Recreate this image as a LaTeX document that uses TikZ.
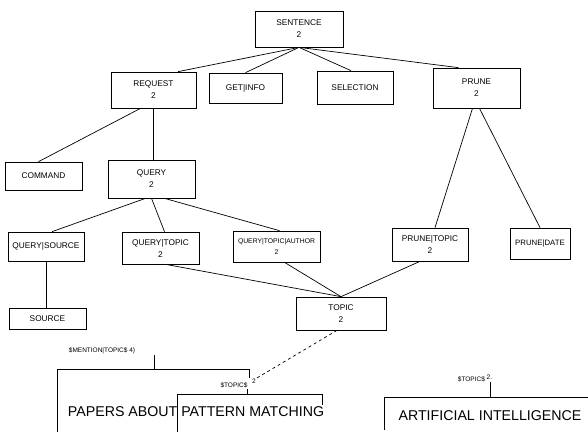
\documentclass[tikz,border=0pt]{standalone}
\usepackage{fontspec}
\setmainfont{Liberation Sans}
\usepackage{tikz}

\begin{document}
\begin{tikzpicture}[x=1pt,y=-1pt, line width=0.7pt,
    box/.style={draw, inner sep=0pt, align=center, font=\fontsize{8.3}{12}\selectfont},
    mark label/.style={inner sep=0pt, font=\fontsize{6.5}{7}\selectfont},
    big text/.style={inner sep=0pt, font=\fontsize{14.2}{16}\selectfont}]
    \useasboundingbox (0,0) rectangle (588,432);
    % Draw the boxes of the parse tree
    \node[box, minimum width=88pt, minimum height=36pt] (sentence) at (299,29) {SENTENCE\\2};
    \node[box, minimum width=85pt, minimum height=36pt] (request) at (153.5,90) {REQUEST\\2};
    \node[box, minimum width=73pt, minimum height=30pt] (getinfo) at (245.5,88) {GET|INFO};
    \node[box, minimum width=76pt, minimum height=33pt] (selection) at (355,87.5) {SELECTION};
    \node[box, minimum width=87pt, minimum height=40pt] (prune) at (476.5,88) {PRUNE\\2};
    \node[box, minimum width=77pt, minimum height=28pt] (command) at (43.5,176) {COMMAND};
    \node[box, minimum width=87pt, minimum height=38pt] (query) at (151.5,179) {QUERY\\2};
    \node[box, minimum width=76pt, minimum height=29pt] (querysource) at (46,246.5) {QUERY|SOURCE};
    \node[box, minimum width=77pt, minimum height=32pt] (querytopic) at (160.5,248) {QUERY|TOPIC\\2};
    \node[box, minimum width=87pt, minimum height=31pt, font=\fontsize{6.8}{11}\selectfont] (querytopicauthor) at (276.5,246.5) {QUERY|TOPIC|AUTHOR\\2};
    \node[box, minimum width=76pt, minimum height=33pt] (prunetopic) at (430,244.5) {PRUNE|TOPIC\\2};
    \node[box, minimum width=60pt, minimum height=31pt, font=\fontsize{7.8}{12}\selectfont] (prunedate) at (540,243.5) {PRUNE|DATE};
    \node[box, minimum width=77pt, minimum height=21pt] (source) at (47.5,318.5) {SOURCE};
    \node[box, minimum width=90pt, minimum height=33pt] (topic) at (341,313.5) {TOPIC\\2};
    % Draw the tree edges
    \draw (sentence.south) -- ([xshift=24.5pt]request.north);
    \draw (sentence.south) -- (getinfo.north);
    \draw (sentence.south) -- ([xshift=-4pt]selection.north);
    \draw (sentence.south) -- ([xshift=-18pt]prune.north);
    \draw ([xshift=-13pt]request.south) -- ([xshift=-5pt]command.north);
    \draw (request.south) -- (request.south |- query.north);
    \draw ([xshift=-6pt]query.south) -- ([xshift=6pt]querysource.north);
    \draw (query.south) -- ([xshift=4pt]querytopic.north);
    \draw ([xshift=13pt]query.south) -- ([xshift=3pt]querytopicauthor.north);
    \draw ([xshift=-4pt]prune.south) -- ([xshift=5pt]prunetopic.north);
    \draw ([xshift=3pt]prune.south) -- (prunedate.north);
    \draw (querysource.south) -- (querysource.south |- source.north);
    \draw ([xshift=5pt]querytopic.south) -- (topic.north);
    \draw ([xshift=8pt]querytopicauthor.south) -- (topic.north);
    \draw ([xshift=-10pt]prunetopic.south) -- (topic.north);
    % Draw the bracketed output phrases
    \node[mark label] (mention) at (102,351) {\$MENTION|TOPIC\$ 4)};
    \node[mark label] (topicmark) at (234,385) {\$TOPIC\$};
    \node[mark label] (topictwo) at (254,381) {2};
    \node[mark label] (aimark) at (475,378) {\$TOPIC\$ \raisebox{2pt}{2.}};
    \coordinate (m1) at (57,369);
    \coordinate (m2) at (249,369);
    \coordinate (t1) at (177,394);
    \coordinate (t2) at (322,394);
    \coordinate (a1) at (384,397);
    \draw (57,432) -- (m1) -- (m2) -- ++(0,9);
    \draw (154,355) -- (154,369);
    \draw (177,432) -- (t1) -- (t2) -- ++(0,11);
    \draw (247,389) -- (247,394);
    \draw (384,430) -- (a1) -- (588,397);
    \draw (490,382) -- (490,397);
    \draw[dashed] ([xshift=-4pt]topic.south) -- (topictwo.north east);
    \node[big text] (papers) at (196,412) {PAPERS ABOUT PATTERN MATCHING};
    \node[big text] (ai) at (490,416) {ARTIFICIAL INTELLIGENCE};
\end{tikzpicture}
\end{document}
